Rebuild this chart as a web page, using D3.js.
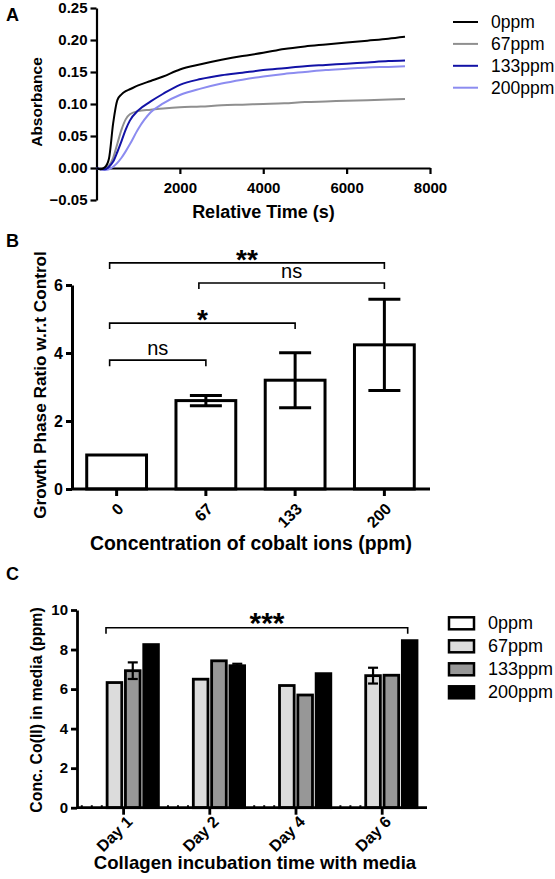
<!DOCTYPE html>
<html><head><meta charset="utf-8">
<script src="https://cdn.jsdelivr.net/npm/d3@7"></script>
<style>
body{margin:0;background:#fff;}
svg{display:block;font-family:"Liberation Sans",Arial,sans-serif;}
.tick text{font-weight:bold;font-size:15px;fill:#000;font-family:"Liberation Sans",Arial,sans-serif;}
</style></head><body>
<svg id="chart" width="555" height="879"></svg>
<script>
// ---------- Panel A data ----------
const timeA = [0,100,200,300,400,500,600,700,800,1000,1300,1600,2000,2500,3000,3500,4000,4500,5000,5500,6000,6500,7000,7400];
const seriesA = ["0ppm","67ppm","133ppm","200ppm"];
const abs0 = [0,-0.002,0.001,0.015,0.07,0.106,0.115,0.12,0.123,0.129,0.136,0.143,0.154,0.162,0.169,0.175,0.180,0.186,0.190,0.193,0.196,0.199,0.202,0.205];
const abs67 = [0,-0.002,-0.001,0.004,0.016,0.038,0.06,0.076,0.084,0.089,0.091,0.093,0.095,0.096,0.098,0.099,0.100,0.101,0.103,0.104,0.105,0.106,0.107,0.108];
const abs133 = [0,-0.002,-0.002,0.002,0.01,0.025,0.042,0.06,0.074,0.09,0.104,0.116,0.13,0.139,0.145,0.149,0.153,0.156,0.159,0.161,0.163,0.165,0.167,0.168];
const abs200 = [0,-0.002,-0.003,-0.002,0.002,0.008,0.016,0.026,0.037,0.061,0.087,0.101,0.114,0.124,0.132,0.138,0.143,0.147,0.150,0.153,0.155,0.157,0.158,0.159];
const yTicksA = [-0.05,0,0.05,0.10,0.15,0.20,0.25];
const xTicksA = [2000,4000,6000,8000];

// ---------- Panel B data ----------
const catsB = ["0","67","133","200"];
const ratioB = [1.0,2.6,3.2,4.24];
const errB = [0,0.15,0.81,1.34];
const yTicksB = [0,2,4,6];
const sigB = [
  {a:"0",b:"200",y:6.65,label:"**"},
  {a:"67",b:"200",y:6.06,label:"ns"},
  {a:"0",b:"133",y:4.88,label:"*"},
  {a:"0",b:"67",y:3.79,label:"ns"}
];

// ---------- Panel C data ----------
const daysC = ["Day 1","Day 2","Day 4","Day 6"];
const seriesC = ["0ppm","67ppm","133ppm","200ppm"];
const conc0 = [0,0,0,0];
const conc67 = [6.33,6.5,6.18,6.68];
const conc133 = [6.93,7.43,5.7,6.7];
const conc200 = [8.25,7.18,6.78,8.45];
const err0 = [0,0,0,0];
const err67 = [0,0,0,0.4];
const err133 = [0.42,0,0,0];
const err200 = [0,0.1,0,0];
const yTicksC = [0,2,4,6,8,10];

const svg = d3.select("#chart");

// ================= Panel A =================
const xA = d3.scaleLinear().domain([0,8000]).range([96.5,430]);
const yA = d3.scaleLinear().domain([-0.05,0.25]).range([200,8]);
const colA = d3.scaleOrdinal().domain(seriesA).range(["#000000","#8f8f8f","#1212a6","#8c8cf0"]);
const gA = svg.append("g");
const yAxA = gA.append("g").attr("transform","translate(96.5,0)")
  .call(d3.axisLeft(yA).tickValues(yTicksA).tickFormat(d3.format(".2f")).tickSize(6).tickSizeOuter(0));
const xAxA = gA.append("g").attr("transform",`translate(0,${yA(0)})`)
  .call(d3.axisBottom(xA).tickValues(xTicksA).tickFormat(d3.format("d")).tickSize(6).tickSizeOuter(0));
xAxA.selectAll(".tick text").attr("dy","1.05em");
[yAxA,xAxA].forEach(a=>{a.selectAll("path,line").attr("stroke","#000").attr("stroke-width",2.2);});
const absSeries = [abs0,abs67,abs133,abs200];
const lineA = d3.line().x((d,i)=>xA(timeA[i])).y(d=>yA(d)).curve(d3.curveMonotoneX);
[1,3,2,0].forEach(k=>{
  gA.append("path").attr("d",lineA(absSeries[k])).attr("fill","none")
    .attr("stroke",colA(seriesA[k])).attr("stroke-width",2);
});
gA.append("text").attr("transform","translate(42,102) rotate(-90)").attr("text-anchor","middle")
  .style("font-weight","bold").style("font-size","15.5px").text("Absorbance");
gA.append("text").attr("x",263.5).attr("y",218).attr("text-anchor","middle")
  .style("font-weight","bold").style("font-size","18px").text("Relative Time  (s)");
gA.append("text").attr("x",6).attr("y",21).style("font-weight","bold").style("font-size","18px").text("A");
const legA = gA.append("g");
seriesA.forEach((s,i)=>{
  const y = 22 + i*21.9;
  legA.append("line").attr("x1",453).attr("x2",478).attr("y1",y).attr("y2",y)
    .attr("stroke",colA(s)).attr("stroke-width",2);
  legA.append("text").attr("x",491).attr("y",y+6).style("font-size","17.5px").text(s);
});

// ================= Panel B =================
const xB = d3.scaleBand().domain(catsB).range([72,429]).paddingInner(0.33).paddingOuter(0.165);
const yB = d3.scaleLinear().domain([0,6]).range([489,285]);
const gB = svg.append("g");
gB.selectAll("rect.bar").data(catsB).join("rect").attr("class","bar")
  .attr("x",d=>xB(d)).attr("width",xB.bandwidth())
  .attr("y",(d,i)=>yB(ratioB[i])).attr("height",(d,i)=>yB(0)-yB(ratioB[i]))
  .attr("fill","#fff").attr("stroke","#000").attr("stroke-width",3);
catsB.forEach((c,i)=>{
  if(errB[i]<=0) return;
  const cx = xB(c)+xB.bandwidth()/2;
  const hi = yB(ratioB[i]+errB[i]), lo = yB(ratioB[i]-errB[i]);
  gB.append("line").attr("x1",cx).attr("x2",cx).attr("y1",hi).attr("y2",lo).attr("stroke","#000").attr("stroke-width",3);
  [hi,lo].forEach(yy=>gB.append("line").attr("x1",cx-16).attr("x2",cx+16).attr("y1",yy).attr("y2",yy).attr("stroke","#000").attr("stroke-width",3));
});
const yAxB = gB.append("g").attr("transform","translate(72,0)")
  .call(d3.axisLeft(yB).tickValues(yTicksB).tickFormat(d3.format("d")).tickSize(6).tickSizeOuter(0));
yAxB.selectAll(".tick text").style("font-size","16px");
const xAxB = gB.append("g").attr("transform",`translate(0,${yB(0)})`)
  .call(d3.axisBottom(xB).tickSize(7).tickSizeOuter(0));
xAxB.select(".domain").attr("d","M72,0H430");
xAxB.selectAll(".tick text").attr("text-anchor","end").attr("dy","0.35em").style("font-size","16px")
  .attr("transform","translate(4,17) rotate(-45)").attr("y",0).attr("x",0);
[yAxB,xAxB].forEach(a=>{a.selectAll("path,line").attr("stroke","#000").attr("stroke-width",3);});
sigB.forEach(s=>{
  const x1 = xB(s.a)+xB.bandwidth()/2 - 7, x2 = xB(s.b)+xB.bandwidth()/2;
  const yy = yB(s.y);
  gB.append("path").attr("d",`M${x1},${yy+6}V${yy}H${x2}V${yy+6}`).attr("fill","none")
    .attr("stroke","#000").attr("stroke-width",1.6);
  const star = s.label.indexOf("*")>=0;
  gB.append("text").attr("x",(x1+x2)/2).attr("y",star? yy+6 : yy-5).attr("text-anchor","middle")
    .style("font-size",star?"28px":"20px").style("font-weight",star?"bold":"normal").text(s.label);
});
gB.append("text").attr("transform","translate(46,385) rotate(-90)").attr("text-anchor","middle")
  .style("font-weight","bold").style("font-size","17.2px").text("Growth Phase Ratio w.r.t Control");
gB.append("text").attr("x",251).attr("y",550).attr("text-anchor","middle")
  .style("font-weight","bold").style("font-size","19.4px").text("Concentration of cobalt ions (ppm)");
gB.append("text").attr("x",6).attr("y",247).style("font-weight","bold").style("font-size","18px").text("B");

// ================= Panel C =================
const xC = d3.scaleBand().domain(daysC).range([80.5,425.3]).paddingInner(0.15).paddingOuter(0.075);
const xSub = d3.scaleBand().domain(seriesC).range([0,xC.bandwidth()]).paddingInner(0.2).paddingOuter(0.1);
const yC = d3.scaleLinear().domain([0,10]).range([807.7,610]);
const fillC = d3.scaleOrdinal().domain(seriesC).range(["#ffffff","#dcdcdc","#979797","#000000"]);
const concS = [conc0,conc67,conc133,conc200];
const errS = [err0,err67,err133,err200];
const gC = svg.append("g");
daysC.forEach((d,di)=>{
  seriesC.forEach((s,si)=>{
    const v = concS[si][di];
    const x = xC(d)+xSub(s), w = xSub.bandwidth();
    if(v>0){
      gC.append("rect").attr("x",x).attr("width",w).attr("y",yC(v)).attr("height",yC(0)-yC(v))
        .attr("fill",fillC(s)).attr("stroke","#000").attr("stroke-width",2.8);
    } else {
      gC.append("line").attr("x1",x-8).attr("x2",x+w).attr("y1",yC(0)-1.5).attr("y2",yC(0)-1.5)
        .attr("stroke","#000").attr("stroke-width",2).attr("stroke-dasharray","2,8");
    }
    const e = errS[si][di];
    if(e>0){
      const cx = x+w/2, hi = yC(v+e), lo = yC(v-e);
      gC.append("line").attr("x1",cx).attr("x2",cx).attr("y1",hi).attr("y2",lo).attr("stroke","#000").attr("stroke-width",2.2);
      [hi,lo].forEach(yy=>gC.append("line").attr("x1",cx-5).attr("x2",cx+5).attr("y1",yy).attr("y2",yy).attr("stroke","#000").attr("stroke-width",2.2));
    }
  });
});
const yAxC = gC.append("g").attr("transform","translate(77,0)")
  .call(d3.axisLeft(yC).tickValues(yTicksC).tickFormat(d3.format("d")).tickSize(6).tickSizeOuter(0));
const xAxC = gC.append("g").attr("transform",`translate(0,${yC(0)})`)
  .call(d3.axisBottom(xC).tickSize(7).tickSizeOuter(0));
xAxC.select(".domain").attr("d","M77,0H427");
xAxC.selectAll(".tick text").attr("text-anchor","end").attr("dy","0.35em").style("font-size","16px")
  .attr("transform","translate(6,11) rotate(-45)").attr("y",0).attr("x",0);
[yAxC,xAxC].forEach(a=>{a.selectAll("path,line").attr("stroke","#000").attr("stroke-width",2.8);});
{
  const x1 = 106, x2 = 407.7, yy = yC(9.1);
  gC.append("path").attr("d",`M${x1},${yy+6}V${yy}H${x2}V${yy+6}`).attr("fill","none")
    .attr("stroke","#000").attr("stroke-width",1.6);
  gC.append("text").attr("x",267).attr("y",yy+5).attr("text-anchor","middle")
    .style("font-size","30px").style("font-weight","bold").text("***");
}
gC.append("text").attr("transform","translate(42,710) rotate(-90)").attr("text-anchor","middle")
  .style("font-weight","bold").style("font-size","15.8px").text("Conc. Co(II) in media (ppm)");
gC.append("text").attr("x",255).attr("y",869).attr("text-anchor","middle")
  .style("font-weight","bold").style("font-size","18.6px").text("Collagen incubation time with media");
gC.append("text").attr("x",6).attr("y",580).style("font-weight","bold").style("font-size","18px").text("C");
const legC = gC.append("g");
seriesC.forEach((s,i)=>{
  const y = 623.3 + i*23;
  legC.append("rect").attr("x",449).attr("y",y-6).attr("width",25).attr("height",12)
    .attr("fill",fillC(s)).attr("stroke","#000").attr("stroke-width",2.5);
  legC.append("text").attr("x",488).attr("y",y+6).style("font-size","18px").text(s);
});
</script></body></html>
